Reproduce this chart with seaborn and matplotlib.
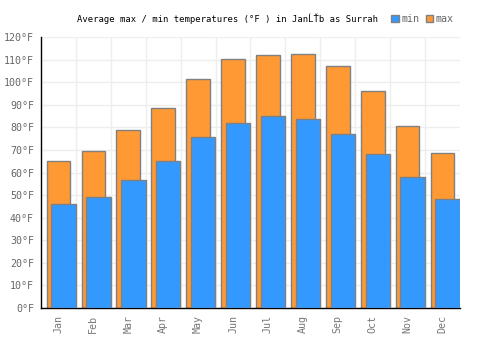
import matplotlib
matplotlib.use("Agg")
import matplotlib.pyplot as plt
import seaborn as sns
import pandas as pd
import numpy as np
from matplotlib.patches import Patch

months = ["Jan", "Feb", "Mar", "Apr", "May", "Jun", "Jul", "Aug", "Sep", "Oct", "Nov", "Dec"]
temp_max = [65, 69.4, 78.7, 88.4, 101.3, 110.4, 111.9, 112.3, 107, 96, 80.5, 68.5]
temp_min = [46, 49, 56.5, 65, 75.6, 81.8, 84.9, 83.6, 76.9, 68, 58, 48.1]
y_ticks = list(range(0, 121, 10))
title = "Average max / min temperatures (°F ) in JanĹŤb as Surrah"

sns.set_style("white")
plt.rcParams['font.family'] = ['DejaVu Sans Mono']

df = pd.DataFrame({"month": months, "max": temp_max, "min": temp_min})

fig = plt.figure(figsize=(5, 3.5), dpi=100)
ax = fig.add_axes([0.082, 0.12, 0.838, 0.774])

c_max = "#ff9933"
c_min = "#3399ff"
edge = "#808080"

sns.barplot(data=df, x="month", y="max", color=c_max, width=0.68,
            edgecolor=edge, linewidth=1.0, saturation=1, ax=ax, zorder=2)
n_before = len(ax.patches)
sns.barplot(data=df, x="month", y="min", color=c_min, width=0.70,
            edgecolor=edge, linewidth=1.0, saturation=1, ax=ax, zorder=3)
for p in ax.patches[n_before:]:
    p.set_x(p.get_x() + 0.145)

ax.set_xlim(-0.5, 11.5)
ax.set_ylim(0, 120)
ax.set_yticks(y_ticks)
ax.set_yticklabels([f"{v}°F" for v in y_ticks])
ax.set_xticks(range(len(months)))
ax.set_xticklabels(months, rotation=90)
ax.set_xticks(np.arange(0.5, 11.5, 1), minor=True)
ax.tick_params(axis="both", which="both", length=0, labelsize=7.2, colors="#666666", pad=5)
ax.tick_params(axis="x", colors="#777777")
ax.grid(False)
ax.grid(True, axis="y", which="major", color="#eeeeee", linewidth=1, zorder=0)
ax.grid(True, axis="x", which="minor", color="#eeeeee", linewidth=1, zorder=0)
ax.set_axisbelow(True)
ax.set_xlabel("")
ax.set_ylabel("")

for s in ["top", "right"]:
    ax.spines[s].set_visible(False)
for s in ["left", "bottom"]:
    ax.spines[s].set_color("black")
    ax.spines[s].set_linewidth(1)

fig.text(0.154, 0.946, title, fontsize=6.4, color="black", va="center", ha="left")

handles = [Patch(facecolor=c_min, edgecolor=edge, label="min"),
           Patch(facecolor=c_max, edgecolor=edge, label="max")]
fig.legend(handles=handles, loc="center left", bbox_to_anchor=(0.772, 0.946),
           ncol=2, frameon=False, fontsize=7.2, handlelength=0.75, handleheight=0.75,
           handletextpad=0.3, columnspacing=0.6, labelcolor="#666666", borderpad=0)

fig.savefig("out.png", dpi=100)
